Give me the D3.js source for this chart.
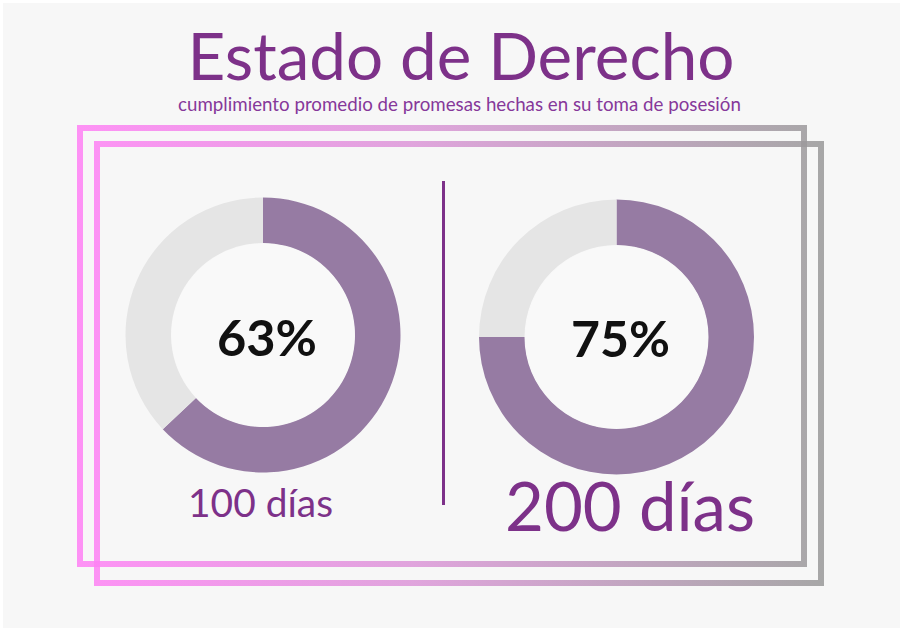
<!DOCTYPE html>
<html>
<head>
<meta charset="utf-8">
<script src="https://cdn.jsdelivr.net/npm/d3@7"></script>
<style>
  html, body { margin: 0; padding: 0; background: #ffffff; }
  svg { display: block; }
</style>
</head>
<body>
<svg id="chart" width="900" height="628"></svg>
<script>
// ---- data ----
const periods = ["100 días", "200 días"];
const compliance = [63, 75];
const pctLabels = ["63%", "75%"];
const title = "Estado de Derecho";
const subtitle = "cumplimiento promedio de promesas hechas en su toma de posesión";

// ---- layout ----
const svg = d3.select("#chart");
const W = 900, H = 628;
const purple = "#7d3189";
const arcPurple = "#967ba3";
const arcGray = "#e5e5e5";
const font = "Lato, 'Open Sans', sans-serif";

svg.append("rect").attr("x", 3).attr("y", 3).attr("width", W - 3).attr("height", H - 3).attr("fill", "#f7f7f7");

// gradient for frames
const defs = svg.append("defs");
const grad = defs.append("linearGradient").attr("id", "frameGrad")
  .attr("gradientUnits", "userSpaceOnUse").attr("x1", 77).attr("x2", 824).attr("y1", 0).attr("y2", 0);
grad.append("stop").attr("offset", "0%").attr("stop-color", "#ff80f5");
grad.append("stop").attr("offset", "45%").attr("stop-color", "#dc96d8");
grad.append("stop").attr("offset", "100%").attr("stop-color", "#999999");

const frames = [
  {x: 80, y: 128, w: 724, h: 436},
  {x: 97, y: 144, w: 724, h: 439}
];
svg.selectAll("rect.frame").data(frames).join("rect")
  .attr("class", "frame")
  .attr("x", d => d.x).attr("y", d => d.y).attr("width", d => d.w).attr("height", d => d.h)
  .attr("fill", "none").attr("stroke", "url(#frameGrad)").attr("stroke-width", 6).attr("stroke-opacity", 0.85);

// text fitting helper: scale font size so text fits target width
function fitText(sel, targetW) {
  const fs = parseFloat(sel.attr("font-size"));
  const w = sel.node().getComputedTextLength();
  if (w > 0) sel.attr("font-size", fs * targetW / w);
  return sel;
}

const t = svg.append("text").attr("x", 461).attr("y", 80).attr("text-anchor", "middle")
  .attr("font-family", font).attr("font-size", 60).attr("fill", purple).text(title);
fitText(t, 547);

const st = svg.append("text").attr("x", 459.5).attr("y", 111).attr("text-anchor", "middle")
  .attr("font-family", font).attr("font-size", 17).attr("fill", "#86389a").text(subtitle);
fitText(st, 563);

// divider
svg.append("line").attr("x1", 443.5).attr("x2", 443.5).attr("y1", 181).attr("y2", 505)
  .attr("stroke", purple).attr("stroke-width", 3);

// donuts
const centers = [{x: 263, y: 335}, {x: 616.5, y: 337}];
const pie = d3.pie().sort(null).value(d => d);
const arc = d3.arc().innerRadius(92).outerRadius(137.5);

const g = svg.selectAll("g.donut").data(compliance).join("g")
  .attr("class", "donut")
  .attr("transform", (d, i) => `translate(${centers[i].x},${centers[i].y})`);

g.selectAll("path").data(d => pie([d, 100 - d])).join("path")
  .attr("d", arc)
  .attr("fill", (d, i) => i === 0 ? arcPurple : arcGray);

g.append("circle").attr("r", 91.5).attr("fill", "#f9f9f9");

const pctPos = [{x: 267, y: 356, w: 100}, {x: 620.5, y: 357, w: 99}];
g.each(function(d, i) {
  const tt = d3.select(this).append("text")
    .attr("x", pctPos[i].x - centers[i].x).attr("y", pctPos[i].y - centers[i].y)
    .attr("text-anchor", "middle").attr("font-family", font).attr("font-weight", 700)
    .attr("font-size", 50).attr("fill", "#111111").text(pctLabels[i]);
  fitText(tt, pctPos[i].w);
});

// period labels
const labelPos = [{x: 260.5, y: 517, w: 145, fs: 34}, {x: 630, y: 531, w: 250, fs: 58}];
svg.selectAll("text.period").data(periods).join("text")
  .attr("class", "period")
  .attr("x", (d, i) => labelPos[i].x).attr("y", (d, i) => labelPos[i].y)
  .attr("text-anchor", "middle").attr("font-family", font)
  .attr("font-size", (d, i) => labelPos[i].fs).attr("fill", purple)
  .text(d => d)
  .each(function(d, i) { fitText(d3.select(this), labelPos[i].w); });
</script>
</body>
</html>
